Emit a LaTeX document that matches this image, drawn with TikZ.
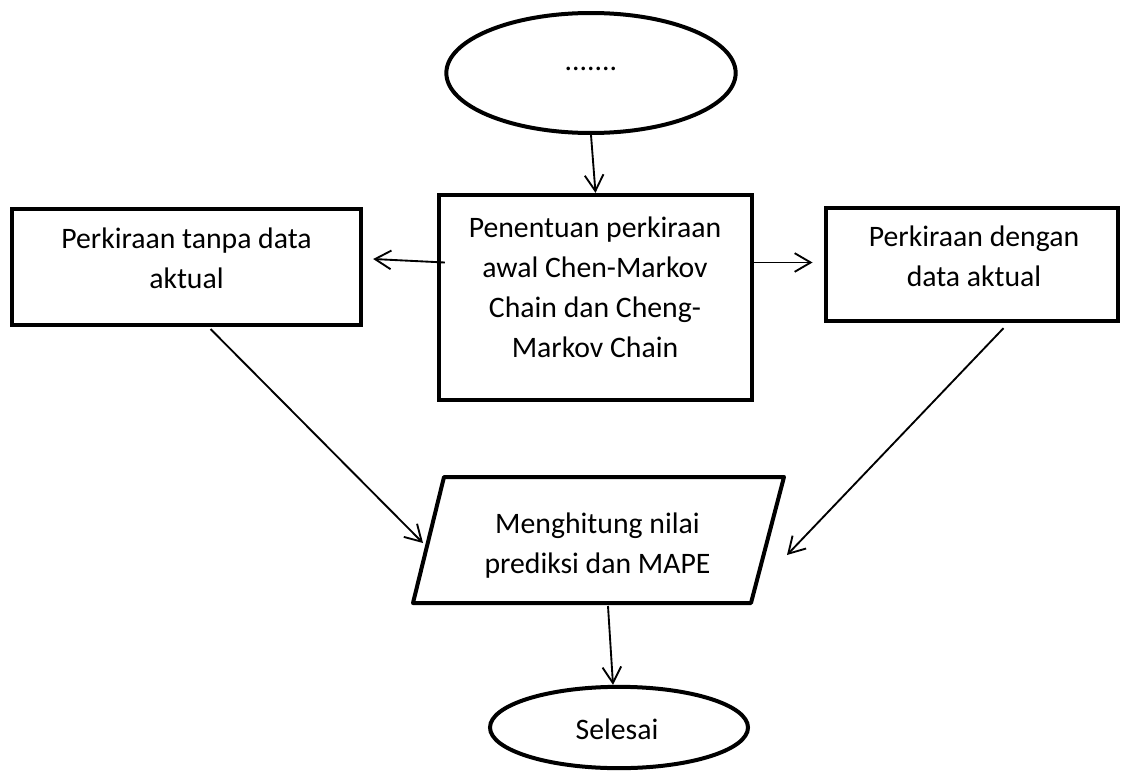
\documentclass[tikz,border=0pt]{standalone}
\usepackage{fontspec}
\setmainfont{Carlito}
\usetikzlibrary{shapes.geometric,arrows.meta}

\begin{document}
\begin{tikzpicture}[x=0.75pt,y=-0.75pt,
  box/.style={draw,line width=3pt,inner sep=0pt},
  txt/.style={align=center,inner sep=0pt,font=\fontsize{22.3}{30}\selectfont},
  arr/.style={-{Straight Barb[length=12pt,width=14pt]},line width=1.4pt}]
\useasboundingbox (0,0) rectangle (1122,771);

% shapes
\node[box,ellipse,minimum width=217pt,minimum height=90pt] (start) at (591,73) {};
\node[box,minimum width=235pt,minimum height=154pt] (mid) at (595.5,297.5) {};
\node[box,minimum width=262pt,minimum height=87pt] (lbox) at (186.5,267) {};
\node[box,minimum width=219pt,minimum height=85pt] (rbox) at (971.5,264.5) {};
\draw[line width=3pt,line join=round] (444,477) -- (784,477) -- (751,603) -- (413,603) -- cycle;
\coordinate (calcl) at (423,543);
\coordinate (calcr) at (787,555);
\coordinate (calcb) at (608,606);
\node[box,ellipse,minimum width=193.5pt,minimum height=61pt] (stop) at (619,727.5) {};

% texts
\node[txt] (startt) at (591,69) {.......};
\node[txt] (midt) at (595,287) {Penentuan perkiraan\\awal Chen-Markov\\Chain dan Cheng-\\Markov Chain};
\node[txt] (lboxt) at (186.5,258) {Perkiraan tanpa data\\aktual};
\node[txt] (rboxt) at (974,256.5) {Perkiraan dengan\\data aktual};
\node[txt] (calc) at (597.5,545.5) {Menghitung nilai\\prediksi dan MAPE};
\node[txt] (stopt) at (617,729.5) {Selesai};

% arrows
\draw[arr] (start.south) -- (mid.north);
\draw[arr] ([shift={(8,-35)}]mid.west) -- ([shift={(10,-8)}]lbox.east);
\draw[arr] ([shift={(0,-35)}]mid.east) -- ([shift={(-11,-2)}]rbox.west);
\draw[arr] ([shift={(24,2)}]lbox.south) -- (calcl);
\draw[arr] ([shift={(32,5)}]rbox.south) -- (calcr);
\draw[arr] (calcb) -- ([shift={(-6,0)}]stop.north);
\end{tikzpicture}
\end{document}
